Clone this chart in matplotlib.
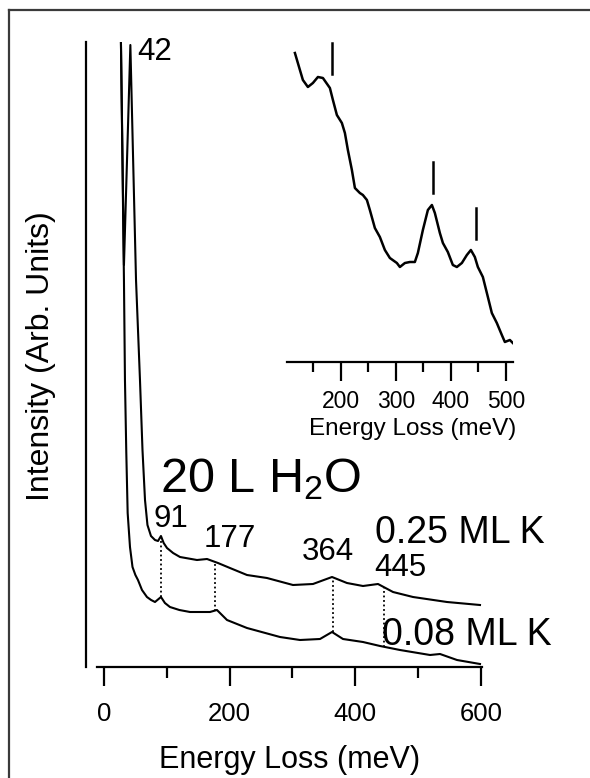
import numpy as np
import matplotlib
matplotlib.use("Agg")
import matplotlib.pyplot as plt
from matplotlib.lines import Line2D

plt.rcParams['font.family'] = ['Liberation Sans', 'DejaVu Sans']
plt.rcParams['mathtext.default'] = 'regular'

# HREELS spectra, 20 L H2O on K-covered surface (energy loss in meV, arb. intensity)
e_025 = [27, 31.8, 42, 51, 57.3, 61.3, 65.3, 69.2, 74.8, 81.2, 86, 90.7, 95, 100.3, 110,
         121, 148, 164, 181.4, 200.5, 227.6, 259.4, 300.8, 332.6, 362.9, 386.7, 412.2,
         436.1, 460, 491.8, 545.9, 598.4]
i_025 = [625, 402, 622, 387, 287, 217, 167, 142, 131, 127, 126, 131, 124, 119, 114,
         110, 107, 108, 104, 99, 92, 89, 82, 83, 90, 84, 81, 83, 75, 70, 65, 62]

e_008 = [27, 31.8, 33.4, 35.5, 37.7, 41.4, 45.4, 50, 54.1, 60.5, 68.4, 75, 81.2, 90.7,
         97, 105, 120, 136.9, 168.7, 179.8, 195.8, 227.6, 280.1, 312, 343.8, 362.9,
         380.4, 412.2, 439.3, 471.1, 518.9, 534.8, 561.8, 598.4]
i_008 = [625, 387, 287, 215, 154, 120, 100, 92, 87, 77, 70, 67, 65, 70, 64, 60, 57,
         55, 55, 57, 47, 39, 30, 27, 28, 35, 28, 25, 21, 17, 12, 13, 7, 3]

peak_labels = [91, 177, 364, 445]
elastic_peak = 42

# magnified 0.25 ML K spectrum
inset_e = [116.4, 125.5, 130.9, 140, 149.1, 158.2, 167.3, 180, 185.5, 192.7, 201.8,
           207.3, 212.7, 220, 225.5, 234.5, 240, 247.3, 252.7, 261.8, 270.9, 280,
           289.1, 301.8, 307.3, 316.4, 325.5, 334.5, 340, 349.1, 358.2, 365.5, 370.9,
           380, 385.5, 394.5, 403.6, 410.9, 420, 429.1, 436.4, 443.6, 449.1, 458.2,
           467.3, 474.5, 483.6, 492.7, 498.2, 507.3, 512.7]
inset_i = [309, 292, 282, 275, 279, 285, 284, 274, 262, 247, 239, 229, 212, 192, 174,
           169, 167, 162, 152, 134, 125, 112, 104, 99, 95, 99, 100, 100, 109, 132, 152,
           157, 149, 129, 119, 110, 97, 95, 99, 107, 112, 105, 95, 85, 65, 49, 39, 27,
           20, 22, 19]
inset_marks = [183, 367, 445]
inset_mark_top = [319, 200, 154]

fig = plt.figure(figsize=(5.9, 7.78), dpi=100)
W, H = 590.0, 778.0

# outer frame
fig.add_artist(Line2D([9 / W, 9 / W], [0, 1 - 10 / H], color='#3a3a3a', lw=1.6))
fig.add_artist(Line2D([9 / W, 1], [1 - 10 / H, 1 - 10 / H], color='#3a3a3a', lw=1.6))

ax = fig.add_axes([86 / W, 1 - 667 / H, 396 / W, 625 / H])
ax.plot(e_025, i_025, color='black', lw=1.5)
ax.plot(e_008, i_008, color='black', lw=1.5)
for p in peak_labels:
    top = np.interp(p, e_025, i_025)
    bot = np.interp(p, e_008, i_008)
    ax.plot([p, p], [bot, top], color='black', lw=1.3, ls=(0, (1, 1.5)))

ax.set_xlim(-28.6, 601.6)
ax.set_ylim(0, 625)
for s in ['top', 'right']:
    ax.spines[s].set_visible(False)
ax.spines['left'].set_linewidth(1.6)
ax.spines['bottom'].set_linewidth(1.6)
ax.spines['bottom'].set_bounds(-11, 602)
ax.set_xticks([0, 200, 400, 600])
ax.set_xticks([100, 300, 500], minor=True)
ax.tick_params(axis='x', which='major', length=14, width=1.6, pad=11, labelsize=18.5)
ax.tick_params(axis='x', which='minor', length=8, width=1.6)
ax.tick_params(axis='y', left=False, labelleft=False)

ax.text(elastic_peak + 10.5, 607, str(elastic_peak), fontsize=22.5, ha='left', va='baseline')
label_xy = [(105.8, 140), (200.5, 120), (357, 107), (471, 91)]
for p, (x, y) in zip(peak_labels, label_xy):
    ax.text(x, y, str(p), fontsize=22.5, ha='center', va='baseline')
ax.text(89, 175, '20 L H$_2$O', fontsize=35, ha='left', va='baseline')
ax.text(431, 124, '0.25 ML K', fontsize=27, ha='left', va='baseline')
ax.text(442, 22, '0.08 ML K', fontsize=27, ha='left', va='baseline')

fig.text(290 / W, 1 - 768 / H, 'Energy Loss (meV)', fontsize=22, ha='center', va='baseline')
fig.text(41 / W, 1 - 356 / H, 'Intensity (Arb. Units)', fontsize=23, rotation=90,
         ha='center', va='center')

# inset
axi = fig.add_axes([287 / W, 1 - 362 / H, 226 / W, 322 / H])
axi.patch.set_visible(False)
axi.plot(inset_e, inset_i, color='black', lw=1.8)
for m, t in zip(inset_marks, inset_mark_top):
    axi.plot([m, m], [t - 31, t], color='black', lw=1.8)
axi.set_xlim(102, 513)
axi.set_ylim(0, 322)
for s in ['top', 'right', 'left']:
    axi.spines[s].set_visible(False)
axi.spines['bottom'].set_linewidth(1.6)
axi.set_xticks([200, 300, 400, 500])
axi.set_xticks([150, 250, 350, 450], minor=True)
axi.tick_params(axis='x', which='major', length=13.5, width=1.6, pad=7, labelsize=16.5)
axi.tick_params(axis='x', which='minor', length=7, width=1.6)
axi.tick_params(axis='y', left=False, labelleft=False)
fig.text(413 / W, 1 - 435 / H, 'Energy Loss (meV)', fontsize=17.5, ha='center', va='baseline')

fig.savefig('out.png', dpi=100)
